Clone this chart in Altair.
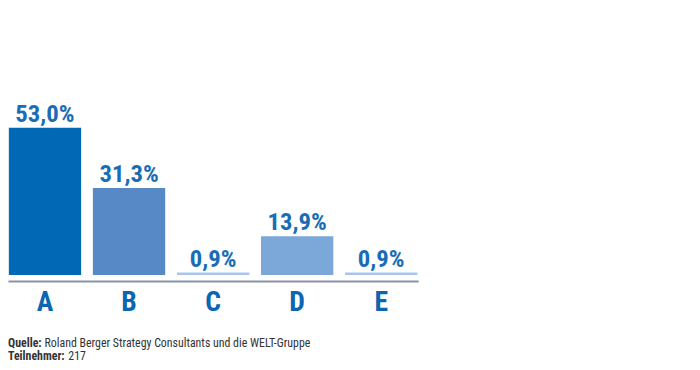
import altair as alt
import pandas as pd

categories = ["A", "B", "C", "D", "E"]
values = [53.0, 31.3, 0.9, 13.9, 0.9]
labels = ["53,0%", "31,3%", "0,9%", "13,9%", "0,9%"]
colors = ["#0068b4", "#5689c5", "#a7c6e9", "#7ba7d9", "#a7c6e9"]

footer_bold = ["Quelle:", "Teilnehmer:"]
footer_rest = ["Roland Berger Strategy Consultants und die WELT-Gruppe", "217"]

FONT = "Liberation Sans Narrow, Arial Narrow, Roboto Condensed, sans-serif"
BLUE_TEXT = "#1a6db5"

df = pd.DataFrame({"cat": categories, "val": values, "label": labels, "color": colors})

x = alt.X(
    "cat:N",
    sort=categories,
    scale=alt.Scale(paddingInner=0.14, paddingOuter=0.01),
    axis=alt.Axis(
        title=None,
        ticks=False,
        tickSize=0,
        domainColor="#8a93a8",
        domainWidth=2,
        offset=6,
        labelFont=FONT,
        labelFontSize=28,
        labelFontWeight="bold",
        labelColor="#0a66b0",
        labelPadding=8,
        labelAngle=0,
    ),
)
y = alt.Y("val:Q", scale=alt.Scale(domain=[0, 95.3], nice=False), axis=None)

bars = alt.Chart(df).mark_bar().encode(
    x=x,
    y=y,
    y2=alt.datum(0),
    color=alt.Color("color:N", scale=None),
)

text = alt.Chart(df).mark_text(
    font=FONT, fontSize=25, fontWeight="bold", color=BLUE_TEXT,
    baseline="alphabetic", dy=-6,
).encode(x=alt.X("cat:N", sort=categories), y=y, text="label:N")

fdf = pd.DataFrame({
    "bold": footer_bold,
    "rest": footer_rest,
    "yy": [341.0, 354.0],
    "xr": [37, 61],
})

f_bold = alt.Chart(fdf).mark_text(
    font=FONT, fontSize=12, fontWeight="bold", color="#333333",
    align="left", baseline="alphabetic",
).encode(
    x=alt.value(0),
    y=alt.Y("yy:Q", scale=None),
    text="bold:N",
)
f_rest = alt.Chart(fdf).mark_text(
    font=FONT, fontSize=12, color="#333333",
    align="left", baseline="alphabetic",
).encode(
    x=alt.X("xr:Q", scale=None),
    y=alt.Y("yy:Q", scale=None),
    text="rest:N",
)

chart = alt.layer(bars, text, f_bold, f_rest).properties(
    width=415,
    height=268,
    autosize=alt.AutoSizeParams(type="none"),
    padding={"left": 0, "top": 0, "right": 277, "bottom": 94},
).configure(background="white").configure_view(strokeWidth=0, stroke=None)

chart.save("out.html", embed_options={"renderer": "svg", "actions": False})
